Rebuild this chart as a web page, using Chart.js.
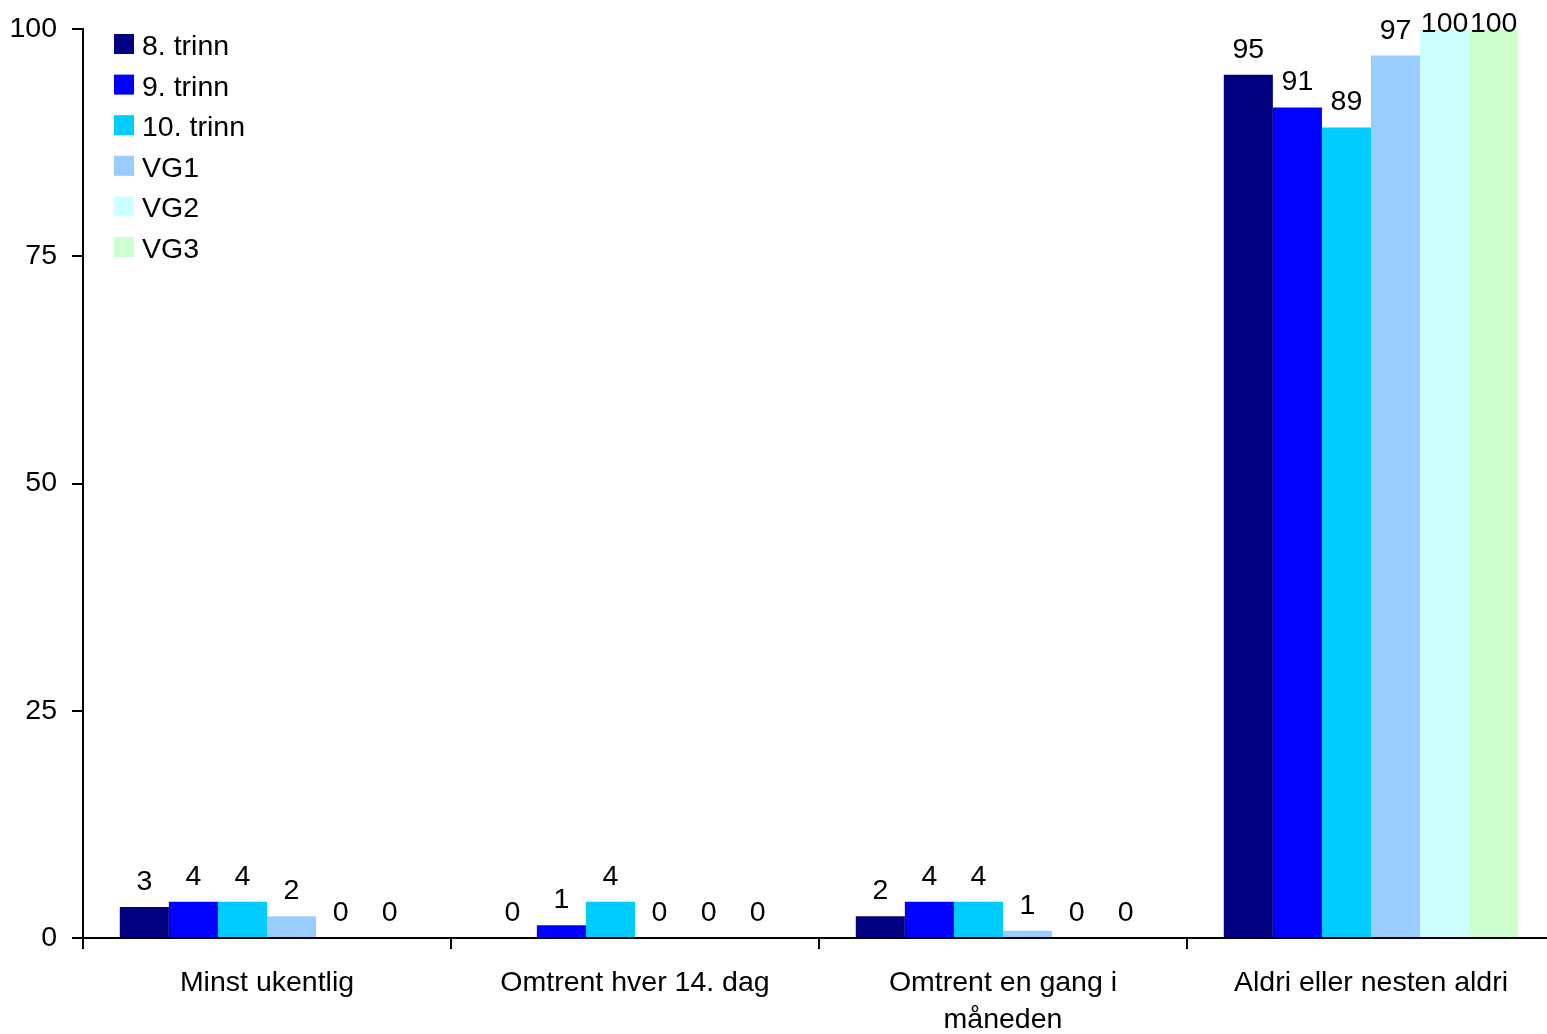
<!DOCTYPE html>
<html>
<head>
<meta charset="utf-8">
<script src="https://cdn.jsdelivr.net/npm/chart.js@4.4.0/dist/chart.umd.min.js"></script>
<style>
  html, body { margin: 0; padding: 0; background: #fff; overflow: hidden; }
  /* plot runs slightly past the right edge of the window, as in the original */
  #wrap { width: 1555px; height: 1034px; }
</style>
</head>
<body>
<div id="wrap"><canvas id="chart"></canvas></div>
<script>
// --- data ---
const categories = ['Minst ukentlig', 'Omtrent hver 14. dag', ['Omtrent en gang i', 'måneden'], 'Aldri eller nesten aldri'];
const seriesNames = ['8. trinn', '9. trinn', '10. trinn', 'VG1', 'VG2', 'VG3'];
const trinn8 = [3.4, 0, 2.4, 95.0];
const trinn9 = [4.0, 1.4, 4.0, 91.4];
const trinn10 = [4.0, 4.0, 4.0, 89.2];
const vg1 = [2.4, 0, 0.8, 97.1];
const vg2 = [0, 0, 0, 100];
const vg3 = [0, 0, 0, 100];
const yTicks = [0, 25, 50, 75, 100];

const colors = ['#000080', '#0000FF', '#00CCFF', '#99CCFF', '#CCFFFF', '#CCFFCC'];
const FONT = '"Liberation Sans", Arial, sans-serif';
const SIZE = 28.5;

const datasets = [trinn8, trinn9, trinn10, vg1, vg2, vg3].map((vals, i) => ({
  label: seriesNames[i],
  data: vals,
  backgroundColor: colors[i],
  borderWidth: 0,
  categoryPercentage: 0.8,
  barPercentage: 1.0
}));

// value labels above every bar (kept inside the top of the picture)
const valueLabels = {
  id: 'valueLabels',
  afterDatasetsDraw(chart) {
    const ctx = chart.ctx;
    ctx.save();
    ctx.font = SIZE + 'px ' + FONT;
    ctx.fillStyle = '#000';
    ctx.textAlign = 'center';
    ctx.textBaseline = 'alphabetic';
    chart.data.datasets.forEach((ds, i) => {
      chart.getDatasetMeta(i).data.forEach((bar, j) => {
        const y = Math.max(bar.y - 17, 32);
        ctx.fillText(String(Math.round(ds.data[j])), bar.x, y);
      });
    });
    ctx.restore();
  }
};

// legend drawn inside the plot, top-left
const insideLegend = {
  id: 'insideLegend',
  afterDraw(chart) {
    const ctx = chart.ctx;
    ctx.save();
    ctx.font = SIZE + 'px ' + FONT;
    ctx.textAlign = 'left';
    ctx.textBaseline = 'alphabetic';
    chart.data.datasets.forEach((ds, i) => {
      const top = 34 + i * 40.6;
      ctx.fillStyle = ds.backgroundColor;
      ctx.fillRect(114, top, 20, 20);
      ctx.fillStyle = '#000';
      ctx.fillText(ds.label, 142, top + 21);
    });
    ctx.restore();
  }
};

new Chart(document.getElementById('chart'), {
  type: 'bar',
  data: { labels: categories, datasets: datasets },
  options: {
    responsive: true,
    maintainAspectRatio: false,
    animation: false,
    layout: { padding: { top: 29, right: 0, left: 0, bottom: 0 } },
    plugins: {
      legend: { display: false },
      tooltip: { enabled: false }
    },
    scales: {
      x: {
        grid: { offset: true, drawOnChartArea: false, drawTicks: true, tickLength: 11, color: '#000', lineWidth: 2 },
        border: { display: true, color: '#000', width: 2 },
        ticks: { color: '#000', font: { family: FONT, size: SIZE, lineHeight: 1.3 }, padding: 16, maxRotation: 0, autoSkip: false },
        afterFit(scale) { scale.height = 96; }
      },
      y: {
        min: 0,
        max: 100,
        afterBuildTicks(scale) { scale.ticks = yTicks.map(v => ({ value: v })); },
        grid: { drawOnChartArea: false, drawTicks: true, tickLength: 11, color: '#000', lineWidth: 2 },
        border: { display: true, color: '#000', width: 2 },
        ticks: { color: '#000', font: { family: FONT, size: SIZE, lineHeight: 1.0 }, padding: 15 },
        afterFit(scale) { scale.width = 83; }
      }
    }
  },
  plugins: [valueLabels, insideLegend]
});
</script>
</body>
</html>
